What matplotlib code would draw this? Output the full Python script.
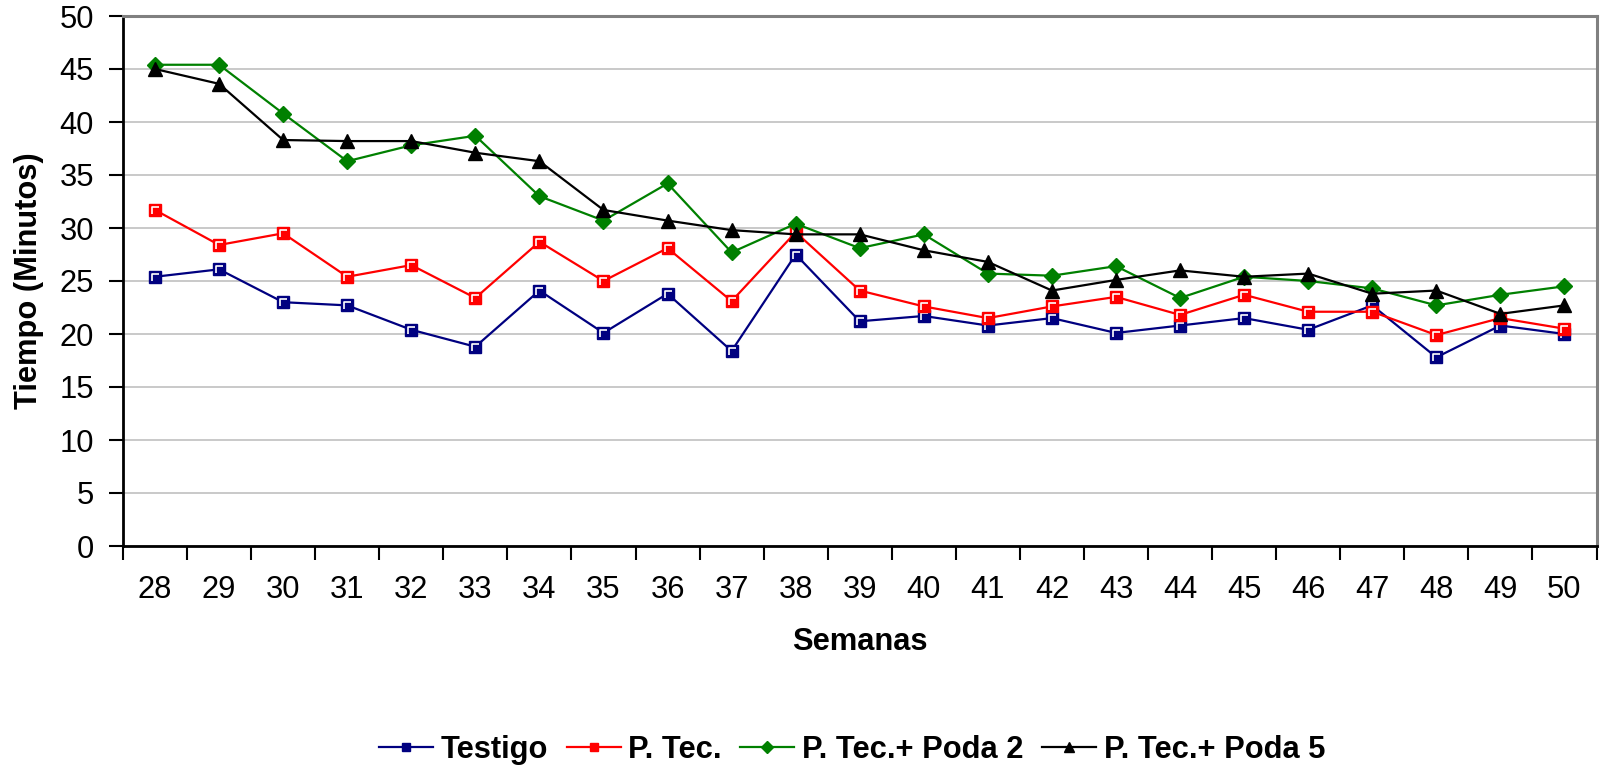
import matplotlib
matplotlib.use("Agg")
import matplotlib.pyplot as plt
from matplotlib.path import Path
import numpy as np

plt.rcParams['font.family'] = ['Liberation Sans', 'DejaVu Sans']

semanas = [str(w) for w in range(28, 51)]
testigo = [25.4, 26.1, 23.0, 22.7, 20.4, 18.8, 24.1, 20.1, 23.8, 18.4, 27.5, 21.2,
           21.7, 20.8, 21.5, 20.1, 20.8, 21.5, 20.4, 22.7, 17.8, 20.8, 20.0]
p_tec = [31.7, 28.4, 29.5, 25.4, 26.5, 23.4, 28.7, 25.0, 28.1, 23.1, 29.6, 24.1,
         22.6, 21.5, 22.6, 23.5, 21.8, 23.7, 22.1, 22.1, 19.9, 21.5, 20.5]
poda2 = [45.4, 45.4, 40.8, 36.3, 37.8, 38.7, 33.0, 30.7, 34.2, 27.7, 30.4, 28.1,
         29.4, 25.7, 25.5, 26.4, 23.4, 25.4, 25.0, 24.3, 22.7, 23.7, 24.5]
poda5 = [45.0, 43.6, 38.3, 38.2, 38.2, 37.1, 36.3, 31.7, 30.7, 29.8, 29.4, 29.4,
         27.9, 26.8, 24.1, 25.1, 26.0, 25.4, 25.7, 23.8, 24.1, 21.9, 22.7]
nombres = ['Testigo', 'P. Tec.', 'P. Tec.+ Poda 2', 'P. Tec.+ Poda 5']

fig = plt.figure(figsize=(16.01, 7.66), dpi=100)
ax = fig.add_axes([123/1601, 1-546/766, (1596.5-123)/1601, (546-16)/766])

x = np.arange(len(semanas))
FS = 22.2
lw = 1.6

# white highlight shape for Excel-like square markers
gamma = Path([(-0.55, -0.9), (-0.55, 0.55), (0.9, 0.55)],
             [Path.MOVETO, Path.LINETO, Path.LINETO])

l1, = ax.plot(x, testigo, color='#000080', lw=lw, marker='s', ms=8.3,
              mfc='#000080', mec='#000080', label=nombres[0], zorder=3)
ax.plot(x, testigo, ls='none', marker=gamma, ms=6, mfc='none', mec='white',
        mew=1.2, zorder=3.1)
l2, = ax.plot(x, p_tec, color='#FF0000', lw=lw, marker='s', ms=8.3,
              mfc='#FF0000', mec='#FF0000', label=nombres[1], zorder=4)
ax.plot(x, p_tec, ls='none', marker=gamma, ms=6, mfc='none', mec='white',
        mew=1.2, zorder=4.1)
l3, = ax.plot(x, poda2, color='#008000', lw=lw, marker='D', ms=8,
              mfc='#008000', mec='#008000', label=nombres[2], zorder=5)
l4, = ax.plot(x, poda5, color='#000000', lw=lw, marker='^', ms=10.5,
              mfc='#000000', mec='#000000', label=nombres[3], zorder=6)

ax.set_xlim(-0.5, len(semanas) - 0.5)
ax.set_ylim(0, 50)
ax.set_yticks(np.arange(0, 51, 5))
ax.yaxis.grid(True, color='#C0C0C0', lw=1.2)
ax.set_axisbelow(True)

# ticks at bin boundaries, labels at centers
ax.set_xticks(np.arange(-0.5, len(semanas), 1.0))
ax.set_xticklabels([])
ax.set_xticks(x, minor=True)
ax.set_xticklabels(semanas, minor=True)
ax.tick_params(axis='x', which='major', direction='out', length=10, width=1.5, color='black')
ax.tick_params(axis='x', which='minor', length=0, pad=21, labelsize=FS)
ax.tick_params(axis='y', direction='out', length=10, width=1.5, pad=11, labelsize=FS)

for s in ['left', 'bottom']:
    ax.spines[s].set_color('black')
    ax.spines[s].set_linewidth(2)
for s in ['top', 'right']:
    ax.spines[s].set_color('#808080')
    ax.spines[s].set_linewidth(2.2)

fig.text(860/1601, 1-642/766, 'Semanas', ha='center', va='center',
         fontsize=FS, fontweight='bold')
fig.text(29/1601, 1-281/766, 'Tiempo (Minutos)', ha='center', va='center',
         rotation=90, fontsize=FS, fontweight='bold')

leg = fig.legend(handles=[l1, l2, l3, l4], loc='center', ncol=4,
                 bbox_to_anchor=(852/1601, 1-750/766), frameon=False,
                 prop={'size': FS, 'weight': 'bold'}, handlelength=1.75,
                 handletextpad=0.25, columnspacing=0.6, borderpad=0,
                 markerscale=0.75)

fig.savefig('out.png', dpi=100)
